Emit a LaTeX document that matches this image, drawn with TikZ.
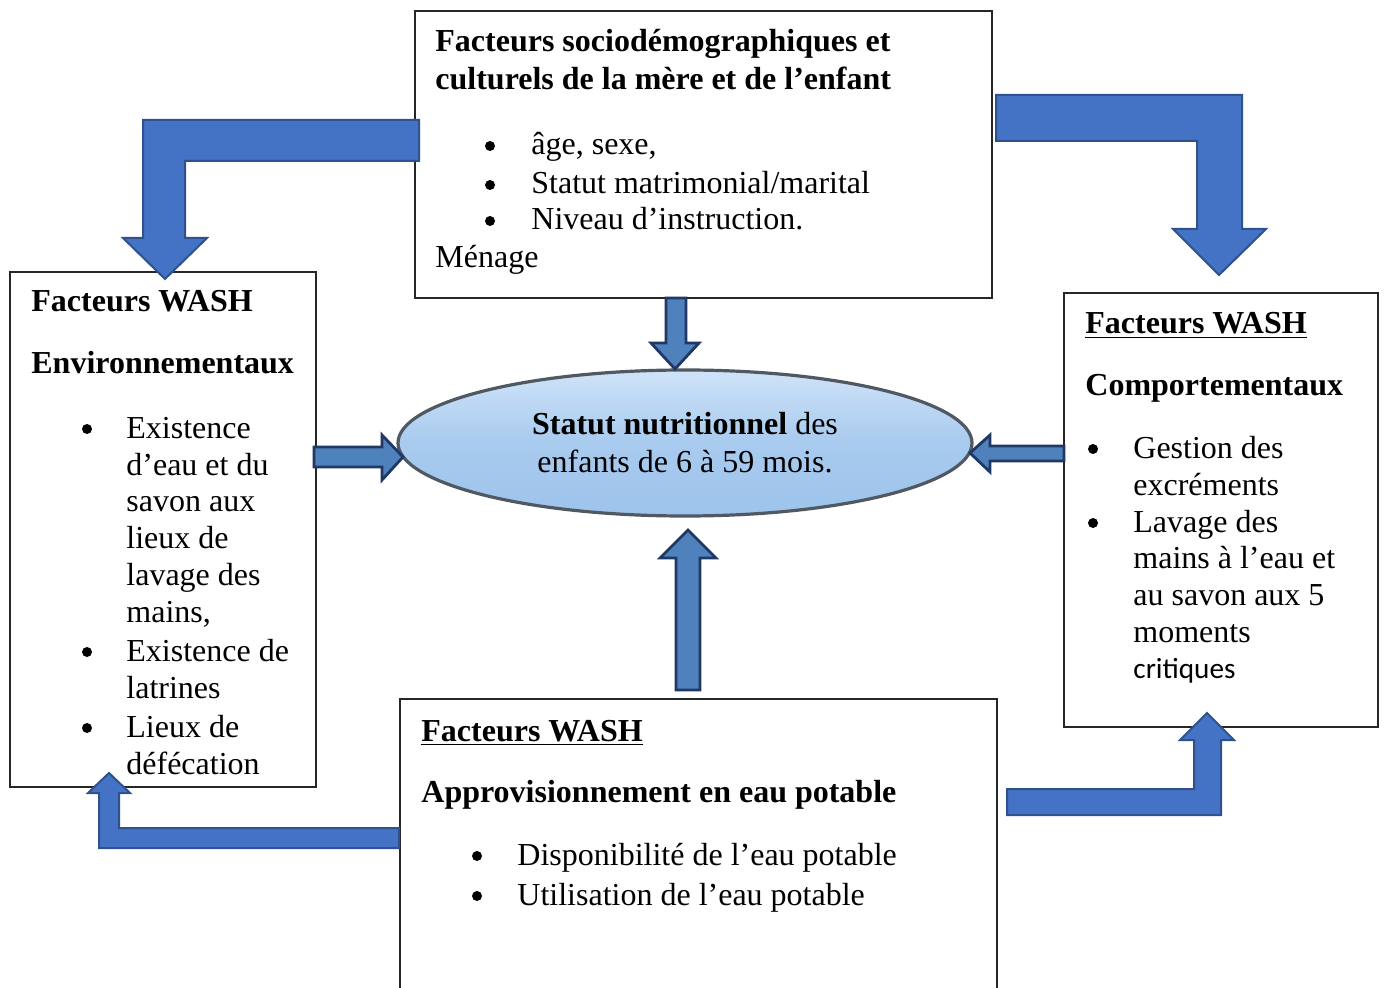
\documentclass[tikz,border=0pt]{standalone}
\usepackage{fontspec}
\setmainfont{Liberation Serif}
\newfontfamily\calib{Carlito}
\usetikzlibrary{shapes.geometric}
\definecolor{bigfill}{HTML}{4472C4}
\definecolor{bigline}{HTML}{2F528F}
\definecolor{smfill}{HTML}{4F81BD}
\definecolor{smline}{HTML}{1F3864}
\definecolor{ellA}{HTML}{CFE3F8}
\definecolor{ellB}{HTML}{9EC4EC}
\definecolor{ellE}{HTML}{505862}
\begin{document}
\begin{tikzpicture}[x=0.5pt,y=-0.5pt,
  box/.style={draw=black!85, line width=0.8pt, fill=white, inner sep=0, outer sep=0},
  txt/.style={anchor=base west, inner sep=0, yshift=-1pt, font=\fontsize{16}{18}\selectfont},
  btxt/.style={anchor=base west, inner sep=0, yshift=-1pt, font=\fontsize{16}{18}\selectfont\bfseries},
  bul/.style={circle, fill=black, inner sep=0, minimum size=5pt, yshift=3.5pt},
  big/.style={fill=bigfill, draw=bigline, line width=1pt, line join=miter},
  small/.style={fill=smfill, draw=smline, line width=1.4pt, line join=miter}]
\useasboundingbox (0,0) rectangle (1384,988);
% boxes
\node[box, minimum width=288.5pt, minimum height=143.5pt] (top) at (703.5,154.5) {};
\node[box, minimum width=153pt, minimum height=257.5pt] (left) at (163,529.5) {};
\node[box, minimum width=157pt, minimum height=217pt] (right) at (1221,510) {};
\node[inner sep=0, outer sep=0, minimum width=298.5pt, minimum height=144.5pt] (bot) at (698.5,843.5) {};
\fill[white] (bot.south west) rectangle (bot.north east);
\draw[draw=black!85, line width=0.8pt] (bot.south west) -- (bot.north west) -- (bot.north east) -- (bot.south east);
% ellipse
\node[ellipse, minimum width=287pt, minimum height=73pt, inner sep=0,
  draw=ellE, line width=1.6pt, top color=ellA, bottom color=ellB, middle color=ellB!80!ellA,
  align=center, font=\fontsize{16}{19}\selectfont] (ell) at (685,443)
  {\textbf{Statut nutritionnel} des\\enfants de 6 à 59 mois.};
% small block arrows
\draw[small] (666,298) -- (666,343) -- (651,343) -- (675,369) -- (699,343) -- (686,343) -- (686,298) -- cycle;
\draw[small] (314,447) -- (382,447) -- (382,435) -- (403,457) -- (382,480) -- (382,467) -- (314,467) -- cycle;
\draw[small] (1064,446) -- (990,446) -- (990,435) -- (970,453) -- (990,472) -- (990,461) -- (1064,461) -- cycle;
\draw[small] (676,690) -- (676,558) -- (660,558) -- (688,530) -- (716,558) -- (700,558) -- (700,690) -- cycle;
% big L arrows
\draw[big] (419,120) -- (143,120) -- (143,238) -- (123,238) -- (165,279) -- (207,238) -- (185,238) -- (185,161) -- (419,161) -- cycle;
\draw[big] (996,95) -- (1242,95) -- (1242,229) -- (1266,229) -- (1219,275) -- (1173,229) -- (1197,229) -- (1197,141) -- (996,141) -- cycle;
\draw[big] (399,828) -- (119,828) -- (119,793) -- (130,793) -- (109,773) -- (88,793) -- (99,793) -- (99,848) -- (399,848) -- cycle;
\draw[big] (1007,789) -- (1194,789) -- (1194,740) -- (1180,740) -- (1207,713) -- (1234,740) -- (1221,740) -- (1221,815) -- (1007,815) -- cycle;
% top box text
\node[btxt] (t1) at (435,50) {Facteurs sociodémographiques et};
\node[btxt] (t2) at (435,88) {culturels de la mère et de l’enfant};
\node[bul] (tb1) at (490,153) {};
\node[txt] (t3) at (531,153) {âge, sexe,};
\node[bul] (tb2) at (490,192) {};
\node[txt] (t4) at (531,192) {Statut matrimonial/marital};
\node[bul] (tb3) at (490,228) {};
\node[txt] (t5) at (531,228) {Niveau d’instruction.};
\node[txt] (t6) at (435,266) {Ménage};
% left box text
\node[btxt] (l1) at (31,310) {Facteurs WASH};
\node[btxt] (l2) at (31,372) {Environnementaux};
\node[bul] (lb1) at (87,436) {};
\node[txt] (l3) at (126,436) {Existence};
\node[txt] (l4) at (126,473) {d’eau et du};
\node[txt] (l5) at (126,509) {savon aux};
\node[txt] (l6) at (126,546) {lieux de};
\node[txt] (l7) at (126,583) {lavage des};
\node[txt] (l8) at (126,620) {mains,};
\node[bul] (lb2) at (87,659) {};
\node[txt] (l9) at (126,659) {Existence de};
\node[txt] (l10) at (126,696) {latrines};
\node[bul] (lb3) at (87,735) {};
\node[txt] (l11) at (126,735) {Lieux de};
\node[txt] (l12) at (126,772) {défécation};
% right box text
\node[btxt] (r1) at (1085,332) {\underline{Facteurs WASH}};
\node[btxt] (r2) at (1085,393) {Comportementaux};
\node[bul] (rb1) at (1093,456) {};
\node[txt] (r3) at (1133,456) {Gestion des};
\node[txt] (r4) at (1133,493) {excréments};
\node[bul] (rb2) at (1093,530) {};
\node[txt] (r5) at (1133,530) {Lavage des};
\node[txt] (r6) at (1133,566) {mains à l’eau et};
\node[txt] (r7) at (1133,603) {au savon aux 5};
\node[txt] (r8) at (1133,640) {moments};
\node[anchor=base west, inner sep=0, yshift=-1pt, font=\calib\fontsize{14.6}{17}\selectfont] (r9) at (1133,676) {critiques};
% bottom box text
\node[btxt] (b1) at (421,739) {\underline{Facteurs WASH}};
\node[btxt] (b2) at (421,800) {Approvisionnement en eau potable};
\node[bul] (bb1) at (477,863) {};
\node[txt] (b3) at (517,863) {Disponibilité de l’eau potable};
\node[bul] (bb2) at (477,903) {};
\node[txt] (b4) at (517,903) {Utilisation de l’eau potable};
\end{tikzpicture}
\end{document}
